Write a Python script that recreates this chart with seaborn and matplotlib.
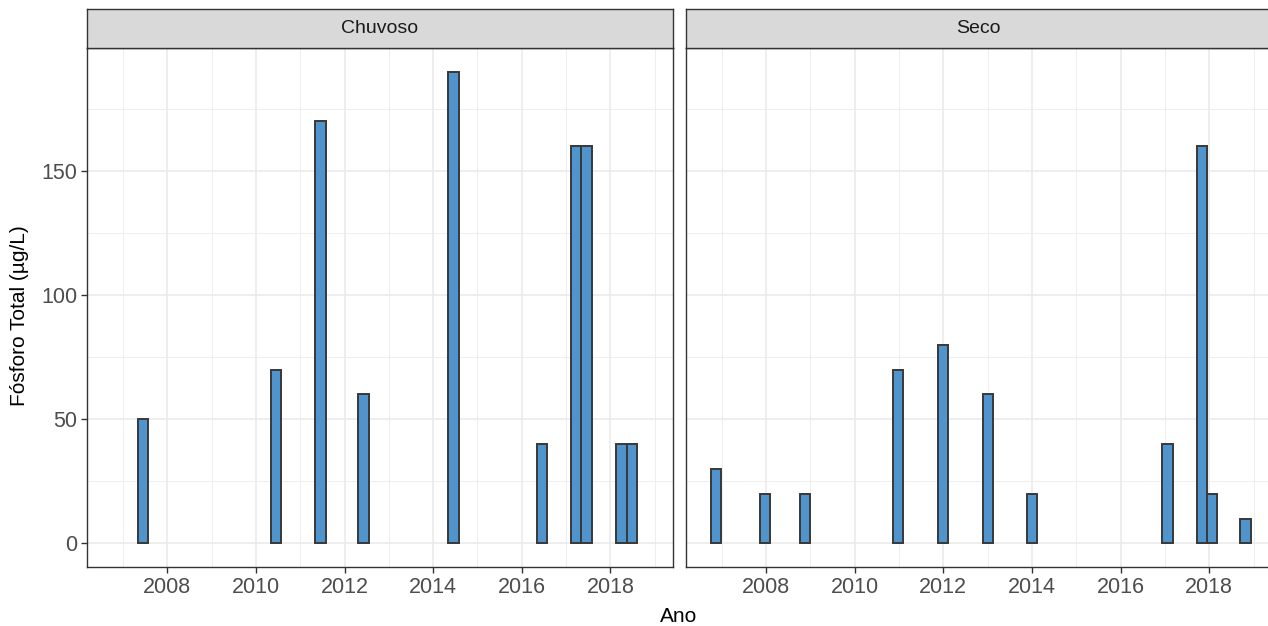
import numpy as np
import pandas as pd
import matplotlib
matplotlib.use("Agg")
import matplotlib.pyplot as plt
from matplotlib.ticker import FixedLocator
import seaborn as sns

# Total phosphorus by sampling date (decimal year), split by season
chuvoso_ano = [2007.45, 2010.45, 2011.46, 2012.43, 2014.46, 2016.46,
               2017.23, 2017.46, 2018.25, 2018.48]
chuvoso_pt = [50, 70, 170, 60, 190, 40, 160, 160, 40, 40]

seco_ano = [2006.88, 2007.97, 2008.88, 2010.97, 2011.99, 2013.01,
            2014.00, 2017.06, 2017.84, 2018.07, 2018.82]
seco_pt = [30, 20, 20, 70, 80, 60, 20, 40, 160, 20, 10]

estacoes = ["Chuvoso", "Seco"]
x_ticks = [2008, 2010, 2012, 2014, 2016, 2018]
y_ticks = [0, 50, 100, 150]

df = pd.concat([
    pd.DataFrame({"Ano": chuvoso_ano, "PT": chuvoso_pt, "Estacao": "Chuvoso"}),
    pd.DataFrame({"Ano": seco_ano, "PT": seco_pt, "Estacao": "Seco"}),
], ignore_index=True)

sns.set_style("white")
plt.rcParams["font.family"] = ["Liberation Sans", "DejaVu Sans"]

W, H = 1268, 626
fig = plt.figure(figsize=(W / 100, H / 100), dpi=100)

FILL = "#4F94CD"
EDGE = "#383838"
BORDER = "#333333"
GRID = "#EBEBEB"
BAR_W = 0.23  # bar width in years

panel_left = [87, 685.8]
panel_w = 585.5
top, bottom = 48, 567
strip_top = 9

for est, px in zip(estacoes, panel_left):
    ax = fig.add_axes([px / W, 1 - bottom / H, panel_w / W, (bottom - top) / H])
    sub = df[df["Estacao"] == est]
    min_gap = np.min(np.diff(np.sort(sub["Ano"].to_numpy())))
    sns.barplot(data=sub, x="Ano", y="PT", orient="x", native_scale=True,
                errorbar=None, color=FILL, saturation=1,
                width=BAR_W / min_gap, edgecolor=EDGE, linewidth=1.4,
                ax=ax, zorder=3)
    ax.set_xlim(2006.19, 2019.40)
    ax.set_ylim(-9.5, 199.5)
    ax.xaxis.set_major_locator(FixedLocator(x_ticks))
    ax.xaxis.set_minor_locator(FixedLocator(np.arange(2007, 2020, 2)))
    ax.yaxis.set_major_locator(FixedLocator(y_ticks))
    ax.yaxis.set_minor_locator(FixedLocator([25, 75, 125, 175]))
    ax.set_xticklabels([str(t) for t in x_ticks])
    ax.grid(which="major", color=GRID, linewidth=1.2)
    ax.grid(which="minor", color=GRID, linewidth=0.6)
    ax.set_axisbelow(True)
    for s in ax.spines.values():
        s.set_color(BORDER)
        s.set_linewidth(1.0)
        s.set_visible(True)
    ax.tick_params(which="major", length=4, width=1.0, color=BORDER,
                   labelsize=15.5, labelcolor="#4D4D4D", pad=3)
    ax.tick_params(which="minor", length=0)
    ax.tick_params(axis="x", bottom=True)
    if est == "Chuvoso":
        ax.tick_params(axis="y", left=True)
    else:
        ax.tick_params(axis="y", left=False, labelleft=False)
    ax.set_xlabel("")
    ax.set_ylabel("")

    # facet strip
    sx = fig.add_axes([px / W, 1 - top / H, panel_w / W, (top - strip_top) / H])
    sx.set_facecolor("#D9D9D9")
    sx.set_xticks([])
    sx.set_yticks([])
    for s in sx.spines.values():
        s.set_color(BORDER)
        s.set_linewidth(1.0)
        s.set_visible(True)
    sx.text(0.5, 0.5, est, ha="center", va="center", fontsize=14,
            color="#1A1A1A", transform=sx.transAxes)

fig.text(679 / W, 1 - 616 / H, "Ano", ha="center", va="center",
         fontsize=15, color="black")
fig.text(20 / W, 1 - 316 / H, "Fósforo Total (µg/L)", ha="center",
         va="center", rotation=90, fontsize=15, color="black")

fig.savefig("out.png", dpi=100)
